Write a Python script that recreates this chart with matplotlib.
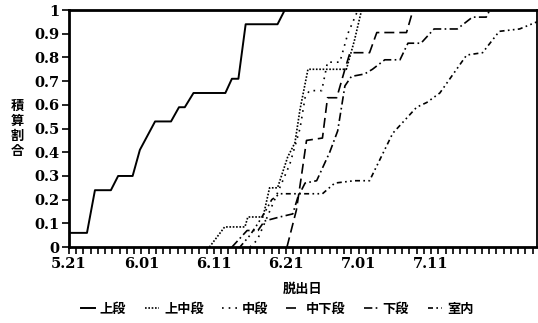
import numpy as np
import matplotlib
matplotlib.use("Agg")
from matplotlib import pyplot as plt

# day index: 0 = 5.21, one tick per day
tick_pos = [0, 10, 20, 30, 40, 50]
tick_lab = ["5.21", "6.01", "6.11", "6.21", "7.01", "7.11"]

x_jo = [0, 2.5, 3.6, 5.8, 6.8, 8.8, 9.8, 11.9, 14.1, 15.2, 16, 17.2, 21.6, 22.5, 23.4, 24.4, 28.8, 29.8]
y_jo = [0.06, 0.06, 0.24, 0.24, 0.30, 0.30, 0.41, 0.53, 0.53, 0.59, 0.59, 0.65, 0.65, 0.71, 0.71, 0.94, 0.94, 1.0]

x_jochu = [19.4, 21.5, 24.3, 24.7, 26.8, 27.7, 28.8, 30.2, 31.2, 31.9, 33.0, 38.3, 39.4, 40.4]
y_jochu = [0, 0.085, 0.085, 0.127, 0.127, 0.25, 0.25, 0.38, 0.44, 0.58, 0.75, 0.75, 0.87, 1.0]

x_chu = [25.0, 26.0, 27.0, 28.4, 30.5, 31.9, 32.6, 33.2, 34.9, 35.7, 37.4, 38.5, 39.9]
y_chu = [0, 0.03, 0.10, 0.20, 0.35, 0.50, 0.63, 0.66, 0.66, 0.78, 0.78, 0.90, 1.0]

x_chuge = [30.1, 31.4, 32.1, 32.8, 35.0, 35.7, 36.97, 38.1, 38.8, 41.5, 42.5, 46.6, 47.5]
y_chuge = [0, 0.156, 0.30, 0.45, 0.46, 0.63, 0.63, 0.75, 0.82, 0.82, 0.905, 0.905, 1.0]

x_ge = [22.5, 24.6, 26.1, 27.0, 29.1, 30.9, 31.6, 32.6, 34.2, 36.0, 37.1, 38.1, 39.0, 40.8, 41.9, 43.6, 45.7, 46.8, 48.6, 50.4, 53.6, 55.7, 57.6, 58.1]
y_ge = [0, 0.07, 0.07, 0.11, 0.127, 0.14, 0.21, 0.27, 0.28, 0.40, 0.49, 0.68, 0.72, 0.73, 0.75, 0.79, 0.79, 0.86, 0.86, 0.92, 0.92, 0.97, 0.97, 1.0]

x_shitsu = [23.6, 25.0, 26.1, 27.1, 28.0, 29.1, 35.0, 36.7, 39.4, 41.5, 44.7, 48.0, 49.4, 51.2, 54.9, 57.1, 59.4, 62.2, 64.6]
y_shitsu = [0, 0.05, 0.10, 0.15, 0.20, 0.225, 0.225, 0.27, 0.28, 0.28, 0.48, 0.59, 0.61, 0.65, 0.81, 0.82, 0.91, 0.92, 0.95]

names = ["上段", "上中段", "中段", "中下段", "下段", "室内"]

jp = ["Noto Sans CJK JP", "DejaVu Sans"]
num = "DejaVu Serif"

fig = plt.figure(figsize=(5.38, 3.23), dpi=100)
ax = fig.add_axes([0.128, 0.235, 0.870, 0.734])

l1, = ax.plot(x_jo, y_jo, color="black", lw=1.4, ls="-")
l2, = ax.plot(x_jochu, y_jochu, color="black", lw=1.2, ls=(0, (1, 1)))
l3, = ax.plot(x_chu, y_chu, color="black", lw=1.2, ls=(0, (1, 3)))
l4, = ax.plot(x_chuge, y_chuge, color="black", lw=1.2, ls=(0, (6, 3)))
l5, = ax.plot(x_ge, y_ge, color="black", lw=1.2, ls=(0, (5, 2, 1, 2)))
l6, = ax.plot(x_shitsu, y_shitsu, color="black", lw=1.2, ls=(0, (3, 2, 1, 2, 1, 2)))

ax.set_xlim(0, 64.6)
ax.set_ylim(0, 1)
ax.set_xticks(tick_pos)
ax.set_xticklabels(tick_lab, fontfamily=num, fontweight="bold", fontsize=10.5)
ax.set_xticks(np.arange(0, 65, 1), minor=True)
ax.set_yticks(np.arange(0, 1.01, 0.1))
ax.set_yticklabels(["0"] + ["%.1f" % v for v in np.arange(0.1, 0.95, 0.1)] + ["1"],
                   fontfamily=num, fontweight="bold", fontsize=10.5)
ax.tick_params(axis="x", which="both", direction="out", length=5, width=1.2, pad=2)
ax.tick_params(axis="y", direction="out", length=5, width=1.2, pad=2)

for s in ["left", "bottom", "top"]:
    ax.spines[s].set_linewidth(2)
ax.spines["right"].set_linewidth(1.3)

ax.set_xlabel("脱出日", fontfamily=jp, fontsize=9.5, fontweight="bold", labelpad=8)
ax.set_ylabel("積\n算\n割\n合", fontfamily=jp, fontsize=9.5, fontweight="bold", rotation=0,
              va="center", linespacing=1.1, labelpad=12)

fig.legend([l1, l2, l3, l4, l5, l6], names, loc="lower center",
           bbox_to_anchor=(0.515, -0.015), ncol=6, frameon=False,
           prop={"family": jp, "size": 9.5, "weight": "bold"}, handlelength=1.1,
           handletextpad=0.35, columnspacing=1.4)

fig.savefig("out.png", dpi=100)
